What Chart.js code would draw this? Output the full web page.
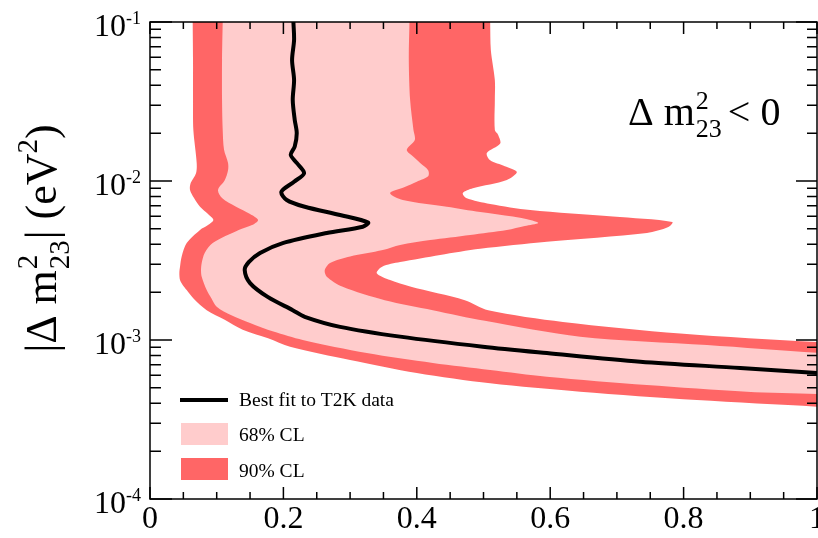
<!DOCTYPE html>
<html>
<head>
<meta charset="UTF-8">
<title>T2K - inverted hierarchy</title>
<script src="https://cdn.jsdelivr.net/npm/chart.js"></script>
<style>
    body { margin: 0; background: white; }
    #wrap { width: 818px; height: 538px; position: relative; }
</style>
</head>
<body>
<div id="wrap"><canvas id="grafico"></canvas></div>
<script>
// best fit curve (x = sin^2 2theta13, y = |dm2_23| in eV^2)
const bestX = [0.215,0.216,0.213,0.216,0.214,0.217,0.220,0.217,0.211,0.220,0.231,0.216,0.197,0.205,0.232,0.285,0.327,0.319,0.265,0.199,0.165,0.148,0.142,0.150,0.177,0.214,0.232,0.285,0.375,0.499,0.595,0.735,0.885,1.0];
const bestY = [0.1,0.0771,0.0577,0.0432,0.0323,0.0242,0.0200,0.0165,0.0146,0.0130,0.0112,0.0099,0.00856,0.0076,0.00689,0.00611,0.00548,0.00516,0.00471,0.00407,0.00353,0.00309,0.00275,0.00228,0.00186,0.00154,0.0014,0.00121,0.00105,0.000908,0.000828,0.00073,0.000667,0.00062];

// 68% CL contour: left/lower edge, inner edge, right edge
const cl68OuterX = [0.109,0.108,0.108,0.109,0.111,0.117,0.117,0.112,0.102,0.108,0.129,0.150,0.162,0.153,0.133,0.094,0.082,0.0775,0.0765,0.0775,0.085,0.092,0.100,0.122,0.150,0.185,0.229,0.325,0.424,0.510,0.595,0.745,0.895,1.0,1.03];
const cl68OuterY = [0.1,0.0577,0.0323,0.0209,0.0157,0.0130,0.0117,0.0101,0.00878,0.00782,0.00689,0.0062,0.00568,0.00528,0.00492,0.00407,0.00353,0.00305,0.00275,0.0025,0.00206,0.00183,0.00162,0.00143,0.00128,0.00113,0.001,0.000828,0.000717,0.000648,0.000588,0.000521,0.000473,0.000458,0.000453];
const cl68InnerX = [1.03,1.0,0.835,0.645,0.502,0.424,0.352,0.288,0.265,0.262,0.270,0.300,0.349,0.375,0.420,0.480,0.535,0.562,0.582];
const cl68InnerY = [0.00082,0.00083,0.00093,0.00105,0.00132,0.00154,0.00178,0.00217,0.0025,0.00275,0.00305,0.00335,0.00368,0.00396,0.00425,0.00458,0.00492,0.00521,0.00544];
const cl68RightX = [0.570,0.544,0.495,0.445,0.379,0.360,0.382,0.400,0.417,0.417,0.405,0.394,0.385,0.397,0.395,0.390,0.388,0.389];
const cl68RightY = [0.00568,0.00597,0.00638,0.00689,0.0076,0.0084,0.00917,0.0099,0.0107,0.0117,0.013,0.0143,0.0157,0.0181,0.0209,0.0323,0.0577,0.1];

// 90% CL contour
const cl90OuterX = [0.064,0.0645,0.0645,0.065,0.070,0.069,0.061,0.060,0.066,0.075,0.087,0.095,0.087,0.075,0.055,0.0475,0.045,0.044,0.045,0.049,0.055,0.0645,0.085,0.112,0.139,0.177,0.210,0.300,0.400,0.510,0.645,0.820,1.0,1.03];
const cl90OuterY = [0.1,0.0577,0.0323,0.0209,0.0130,0.0112,0.00971,0.00878,0.00782,0.00689,0.0062,0.00568,0.00528,0.00492,0.00407,0.00335,0.00289,0.00264,0.00238,0.00222,0.00206,0.00184,0.00154,0.00134,0.00116,0.001025,0.000908,0.000749,0.00062,0.000534,0.000473,0.000419,0.000381,0.000375];
const cl90InnerX = [1.03,1.0,0.795,0.619,0.507,0.472,0.390,0.360,0.340,0.348,0.375,0.435,0.495,0.595,0.745,0.777,0.783];
const cl90InnerY = [0.00096,0.00097,0.0011,0.0013,0.00154,0.00178,0.00217,0.00238,0.00263,0.00289,0.00309,0.00343,0.00375,0.00415,0.00471,0.00513,0.00552];
const cl90RightX = [0.694,0.570,0.510,0.474,0.469,0.484,0.535,0.550,0.532,0.510,0.505,0.525,0.522,0.517,0.517,0.517,0.511,0.510];
const cl90RightY = [0.00597,0.00657,0.00717,0.00782,0.0084,0.00899,0.01015,0.0114,0.0124,0.0135,0.0150,0.0172,0.0195,0.0209,0.0323,0.0432,0.0667,0.1];

// axes
const xTickValues = [0, 0.2, 0.4, 0.6, 0.8, 1];
const xTickLabels = ['0', '0.2', '0.4', '0.6', '0.8', '1'];
const xMinorTicks = [0.05,0.1,0.15,0.25,0.3,0.35,0.45,0.5,0.55,0.65,0.7,0.75,0.85,0.9,0.95];
const yTickValues = [1e-4, 1e-3, 1e-2, 1e-1];
const yTickExps = ['-4', '-3', '-2', '-1'];
const legendLabels = ['Best fit to T2K data', '68% CL', '90% CL'];

const RED = '#ff6666';
const PINK = '#ffcccc';
const SERIF = '"Liberation Serif", "Times New Roman", serif';

function puntos(xs, ys) {
    return xs.map((v, i) => ({ x: v, y: ys[i] }));
}

// y minor ticks 2..9 x decade
const yMinorTicks = [];
for (let d = -4; d < -1; d++) {
    for (let k = 2; k <= 9; k++) yMinorTicks.push(k * Math.pow(10, d));
}

// draws text runs: [texto, size, dy] or [sup, size, dy, sub, dy2]
function escribir(ctx, partes, x, y) {
    let cx = x;
    partes.forEach(p => {
        ctx.font = p[1] + 'px ' + SERIF;
        if (p[3]) {
            ctx.fillText(p[0], cx + 1, y - p[2]);
            ctx.fillText(p[3], cx + 1, y + p[4]);
            cx += Math.max(ctx.measureText(p[0]).width, ctx.measureText(p[3]).width) + 2;
        } else {
            ctx.fillText(p[0], cx, y - p[2]);
            cx += ctx.measureText(p[0]).width;
        }
    });
    return cx - x;
}
function medir(ctx, partes) {
    let w = 0;
    partes.forEach(p => {
        ctx.font = p[1] + 'px ' + SERIF;
        if (p[3]) w += Math.max(ctx.measureText(p[0]).width, ctx.measureText(p[3]).width) + 2;
        else w += ctx.measureText(p[0]).width;
    });
    return w;
}

const marco = {
    id: 'marco',
    afterDatasetsDraw(chart) {
        const { ctx, chartArea: a, scales } = chart;
        const sx = scales.x, sy = scales.y;
        ctx.save();
        ctx.strokeStyle = '#000';
        ctx.lineWidth = 1.5;
        ctx.beginPath();
        xTickValues.forEach(v => {
            const p = sx.getPixelForValue(v);
            ctx.moveTo(p, a.bottom); ctx.lineTo(p, a.bottom - 12);
            ctx.moveTo(p, a.top); ctx.lineTo(p, a.top + 12);
        });
        xMinorTicks.forEach(v => {
            const p = sx.getPixelForValue(v);
            ctx.moveTo(p, a.bottom); ctx.lineTo(p, a.bottom - 7);
            ctx.moveTo(p, a.top); ctx.lineTo(p, a.top + 7);
        });
        yTickValues.forEach(v => {
            const p = sy.getPixelForValue(v);
            ctx.moveTo(a.left, p); ctx.lineTo(a.left + 22, p);
            ctx.moveTo(a.right, p); ctx.lineTo(a.right - 21, p);
        });
        yMinorTicks.forEach(v => {
            const p = sy.getPixelForValue(v);
            ctx.moveTo(a.left, p); ctx.lineTo(a.left + 11, p);
            ctx.moveTo(a.right, p); ctx.lineTo(a.right - 10, p);
        });
        ctx.stroke();
        ctx.lineWidth = 1.5;
        ctx.strokeRect(a.left, a.top, a.right - a.left, a.bottom - a.top);

        // y tick labels 10^n
        ctx.fillStyle = '#000';
        ctx.textBaseline = 'alphabetic';
        yTickValues.forEach((v, i) => {
            const p = sy.getPixelForValue(v);
            ctx.font = '18px ' + SERIF;
            const we = ctx.measureText(yTickExps[i]).width;
            ctx.font = '32px ' + SERIF;
            const wb = ctx.measureText('10').width;
            const r = 141;
            ctx.fillText('10', r - we - wb, p + 14);
            ctx.font = '18px ' + SERIF;
            ctx.fillText(yTickExps[i], r - we, p + 2);
        });

        // legend
        ctx.strokeStyle = '#000';
        ctx.lineWidth = 4;
        ctx.beginPath();
        ctx.moveTo(180, 400); ctx.lineTo(228, 400);
        ctx.stroke();
        ctx.fillStyle = PINK;
        ctx.fillRect(181, 423, 47, 22);
        ctx.fillStyle = RED;
        ctx.fillRect(181, 458, 47, 22);
        ctx.fillStyle = '#000';
        ctx.font = '19.5px ' + SERIF;
        ctx.fillText(legendLabels[0], 239, 406);
        ctx.fillText(legendLabels[1], 239, 441);
        ctx.fillText(legendLabels[2], 239, 477);

        // annotation  "Δ m²₂₃ < 0"
        const w1 = escribir(ctx, [['\u0394 m', 40, 0], ['2', 26, 16, '23', 12]], 628, 125);
        ctx.font = '40px ' + SERIF;
        const xl = 628 + w1 + 5;
        ctx.fillText('<', xl, 125);
        ctx.fillText('0', xl + ctx.measureText('<').width + 10, 125);

        // y axis title, rotated
        const titulo = [['|\u0394 m', 44, 0], ['2', 29, 19, '23', 13], ['| (eV', 44, 0], ['2', 29, 19], [')', 44, 0]];
        const w = medir(ctx, titulo);
        ctx.translate(56, 0);
        ctx.rotate(-Math.PI / 2);
        escribir(ctx, titulo, -238.5 - w / 2, 0);
        ctx.restore();
    }
};

new Chart(document.getElementById('grafico'), {
    type: 'scatter',
    data: {
        datasets: [
            {
                label: legendLabels[0],
                data: puntos(bestX, bestY),
                showLine: true,
                borderColor: '#000',
                borderWidth: 4,
                pointRadius: 0,
                tension: 0.3,
                borderJoinStyle: 'round',
                fill: false,
                clip: 0
            },
            {
                label: legendLabels[1],
                data: puntos(cl68OuterX.concat(cl68InnerX, cl68RightX), cl68OuterY.concat(cl68InnerY, cl68RightY)),
                showLine: true,
                borderColor: 'rgba(0,0,0,0)',
                borderWidth: 0,
                backgroundColor: PINK,
                pointRadius: 0,
                tension: 0.3,
                fill: 'shape',
                clip: 0
            },
            {
                label: legendLabels[2],
                data: puntos(cl90OuterX.concat(cl90InnerX, cl90RightX), cl90OuterY.concat(cl90InnerY, cl90RightY)),
                showLine: true,
                borderColor: 'rgba(0,0,0,0)',
                borderWidth: 0,
                backgroundColor: RED,
                pointRadius: 0,
                tension: 0.3,
                fill: 'shape',
                clip: 0
            }
        ]
    },
    options: {
        responsive: true,
        maintainAspectRatio: false,
        animation: false,
        layout: { padding: { top: 22, right: 1, left: 0, bottom: 0 } },
        plugins: { legend: { display: false }, tooltip: { enabled: false } },
        scales: {
            x: {
                type: 'linear',
                min: 0,
                max: 1,
                grid: { display: false, drawTicks: false },
                border: { display: false },
                afterBuildTicks: s => { s.ticks = xTickValues.map(v => ({ value: v })); },
                afterFit: s => { s.height = 39; s.paddingLeft = 0; s.paddingRight = 0; },
                ticks: {
                    autoSkip: false,
                    maxRotation: 0,
                    padding: 1,
                    color: '#000',
                    font: { family: SERIF, size: 32 },
                    callback: (v, i) => xTickLabels[i]
                }
            },
            y: {
                type: 'logarithmic',
                min: 1e-4,
                max: 1e-1,
                grid: { display: false, drawTicks: false },
                border: { display: false },
                ticks: { display: false },
                afterFit: s => { s.width = 150; }
            }
        }
    },
    plugins: [marco]
});
</script>
</body>
</html>
